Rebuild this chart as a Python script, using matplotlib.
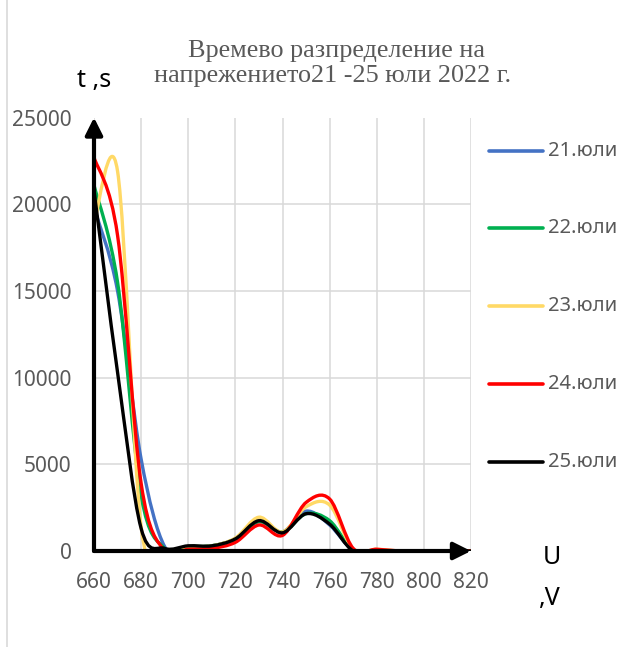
import matplotlib
matplotlib.use("Agg")
import matplotlib.pyplot as plt
from matplotlib.path import Path
from matplotlib.patches import PathPatch
from matplotlib.lines import Line2D

# Voltage steps (V) and time spent at each level (s) per day
voltage = [660, 670, 680, 690, 700, 710, 720, 730, 740, 750, 760, 770, 780, 790, 800, 810, 820]
jul21 = [19800, 15000, 5300, 250, 250, 300, 700, 1700, 1100, 2300, 1500, 50, 0, 0, 0, 0, 0]
jul22 = [21100, 15500, 3200, 150, 250, 300, 700, 1700, 1100, 2150, 1750, 50, 0, 0, 0, 0, 0]
jul23 = [18900, 21900, 1400, 100, 250, 300, 750, 1950, 1100, 2550, 2650, 100, 100, 0, 0, 0, 0]
jul24 = [22700, 18200, 3900, 0, 100, 150, 500, 1500, 900, 2800, 3000, 150, 100, 0, 0, 0, 0]
jul25 = [20800, 10300, 1300, 150, 300, 300, 700, 1750, 1050, 2150, 1550, 0, 0, 0, 0, 0, 0]

labels = ["21.юли", "22.юли", "23.юли", "24.юли", "25.юли"]
colors = ["#4472C4", "#00B050", "#FFD966", "#FF0000", "#000000"]
series = [jul21, jul22, jul23, jul24, jul25]

x_ticks = [660, 680, 700, 720, 740, 760, 780, 800, 820]
y_ticks = [0, 5000, 10000, 15000, 20000, 25000]

GREY = "#595959"
GRID = "#D9D9D9"


def smooth_path(xs, ys):
    # cubic bezier through the points, same as a spreadsheet "smoothed line"
    pts = list(zip(xs, ys))
    n = len(pts)
    verts = [pts[0]]
    codes = [Path.MOVETO]
    for i in range(n - 1):
        p0 = pts[max(i - 1, 0)]
        p1 = pts[i]
        p2 = pts[i + 1]
        p3 = pts[min(i + 2, n - 1)]
        c1 = (p1[0] + (p2[0] - p0[0]) / 6, p1[1] + (p2[1] - p0[1]) / 6)
        c2 = (p2[0] - (p3[0] - p1[0]) / 6, p2[1] - (p3[1] - p1[1]) / 6)
        verts += [c1, c2, p2]
        codes += [Path.CURVE4] * 3
    return Path(verts, codes)


W, H = 639, 647
fig = plt.figure(figsize=(W / 100, H / 100), dpi=100)


def fx(px):
    return px / W


def fy(py):
    return 1 - py / H


ax = fig.add_axes([fx(94), fy(551), fx(471) - fx(94), fy(117.5) - fy(551)])
ax.set_xlim(660, 820)
ax.set_ylim(0, 25000)
ax.set_xticks(x_ticks)
ax.set_yticks(y_ticks)
for s in ax.spines.values():
    s.set_visible(False)
ax.grid(True, color=GRID, lw=1.1)
ax.set_axisbelow(True)
ax.tick_params(length=0, labelcolor=GREY, labelsize=15)
ax.tick_params(axis="y", pad=16)
ax.tick_params(axis="x", pad=15)
for lab in ax.get_xticklabels() + ax.get_yticklabels():
    lab.set_family("Noto Sans")

for vals, col in zip(series, colors):
    ax.add_patch(PathPatch(smooth_path(voltage, vals), fill=False,
                           edgecolor=col, lw=2.4, capstyle="round", joinstyle="round"))

# arrowed axes
arrow = dict(arrowstyle="-|>", lw=3, color="black", mutation_scale=26,
             shrinkA=0, shrinkB=0)
ax.annotate("", xy=(0, 1.0), xytext=(0, 0), xycoords="axes fraction",
            arrowprops=arrow, annotation_clip=False)
ax.annotate("", xy=(1.0, 0), xytext=(0, 0), xycoords="axes fraction",
            arrowprops=arrow, annotation_clip=False)

# legend on the right
leg_y = [151, 228, 306, 384, 462]
for lab, col, py in zip(labels, colors, leg_y):
    fig.add_artist(Line2D([fx(489), fx(543)], [fy(py), fy(py)], color=col,
                          lw=2.6, solid_capstyle="round"))
    fig.text(fx(548), fy(py), lab, color=GREY, fontsize=14.5,
             family="Noto Sans", va="center", ha="left")

# title
fig.text(fx(337), fy(56.7), "Времево разпределение на", family="Liberation Serif",
         fontsize=18.8, color=GREY, ha="center", va="baseline")
fig.text(fx(333), fy(81.7), "напрежението21 -25 юли 2022 г.", family="Liberation Serif",
         fontsize=18.8, color=GREY, ha="center", va="baseline")

# axis names
fig.text(fx(77), fy(86.7), "t ,s", family="Noto Sans", fontsize=18,
         color="black", ha="left", va="baseline")
fig.text(fx(552), fy(558), "U", family="Noto Sans", fontsize=18,
         color="black", ha="center", va="center")
fig.text(fx(550), fy(598), ",V", family="Noto Sans", fontsize=18,
         color="black", ha="center", va="center")

# chart frame edge
fig.add_artist(Line2D([fx(7), fx(7)], [0, 1], color=GRID, lw=1.2))

fig.savefig("out.png", dpi=100)
